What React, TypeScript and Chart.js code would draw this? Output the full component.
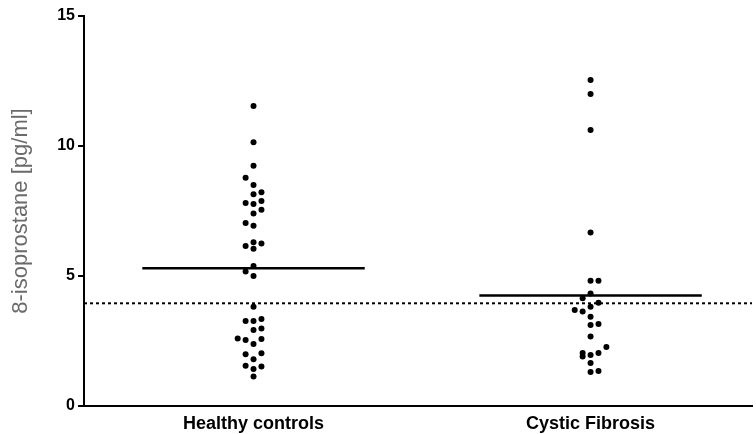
import React, { useEffect, useRef } from "react";
import { Chart, registerables } from "chart.js";

Chart.register(...registerables);

const categories = ["Healthy controls", "Cystic Fibrosis"];

const healthyValues = [
  11.54, 10.14, 9.24, 8.78, 8.5, 8.14, 8.22, 7.81, 7.77, 7.88, 7.4, 7.55, 7.04, 6.93,
  6.3, 6.15, 6.25, 6.05, 5.38, 5.17, 5.0, 3.82, 3.27, 3.27, 3.35, 2.92, 2.98,
  2.6, 2.54, 2.38, 2.58, 1.99, 2.03, 1.8, 1.55, 1.52, 1.42, 1.13,
];
const healthyColumns = [
  0, 0, 0, -1, 0, 0, 1, -1, 0, 1, 0, 1, -1, 0,
  0, -1, 1, 0, 0, -1, 0, 0, -1, 0, 1, 0, 1,
  -2, -1, 0, 1, -1, 1, 0, -1, 1, 0, 0,
];

const cfValues = [
  12.54, 12.0, 10.62, 6.67, 4.82, 4.82, 4.33, 4.14, 3.97, 3.82, 3.69, 3.63, 3.43,
  3.12, 3.15, 2.67, 2.27, 2.04, 1.9, 1.96, 2.04, 1.65, 1.31, 1.35,
];
const cfColumns = [
  0, 0, 0, 0, 0, 1, 0, -1, 1, 0, -2, -1, 0,
  0, 1, 0, 2, -1, -1, 0, 1, 0, 0, 1,
];

const means = [5.3, 4.25];
const threshold = 3.95;

const yTicks = [0, 5, 10, 15];

const X_MIN = 0.497;
const X_MAX = 2.479;
const COLUMN_STEP = 0.0235;
const MEAN_HALF = 0.33;

export default function App() {
  const ref = useRef<HTMLCanvasElement | null>(null);

  useEffect(() => {
    document.body.style.margin = "0";
    if (!ref.current) return;
    const toPoints = (vals: number[], cols: number[], group: number) =>
      vals.map((v, i) => ({ x: group + cols[i] * COLUMN_STEP, y: v }));

    const chart = new Chart(ref.current, {
      type: "scatter",
      data: {
        datasets: [
          {
            label: categories[0],
            data: toPoints(healthyValues, healthyColumns, 1),
            backgroundColor: "#000",
            pointRadius: 3,
            borderWidth: 0,
          },
          {
            label: categories[1],
            data: toPoints(cfValues, cfColumns, 2),
            backgroundColor: "#000",
            pointRadius: 3,
            borderWidth: 0,
          },
          ...means.map((m, i) => ({
            type: "line" as const,
            label: "mean " + categories[i],
            data: [
              { x: i + 1 - MEAN_HALF, y: m },
              { x: i + 1 + MEAN_HALF, y: m },
            ],
            borderColor: "#000",
            borderWidth: 2.5,
            pointRadius: 0,
            showLine: true,
          })),
          {
            type: "line" as const,
            label: "threshold",
            data: [
              { x: X_MIN, y: threshold },
              { x: X_MAX, y: threshold },
            ],
            borderColor: "#000",
            borderWidth: 2,
            borderDash: [3, 3],
            pointRadius: 0,
            showLine: true,
          },
        ],
      },
      options: {
        animation: false,
        responsive: false,
        layout: { padding: { top: 16, right: 0, left: 0, bottom: 0 } },
        plugins: { legend: { display: false }, tooltip: { enabled: false } },
        scales: {
          x: {
            type: "linear",
            min: X_MIN,
            max: X_MAX,
            afterBuildTicks: (axis: any) => {
              axis.ticks = categories.map((_, i) => ({ value: i + 1 }));
            },
            afterFit: (axis: any) => {
              axis.height = 28;
            },
            ticks: {
              callback: (v: any) => categories[Math.round(Number(v)) - 1] ?? "",
              color: "#000",
              font: { family: "'Liberation Sans', Arial, sans-serif", size: 18, weight: "bold" },
              padding: 7,
              maxRotation: 0,
              autoSkip: false,
            },
            grid: { display: false, drawTicks: false },
            border: { display: true, color: "#000", width: 2 },
          },
          y: {
            type: "linear",
            min: 0,
            max: 15,
            afterBuildTicks: (axis: any) => {
              axis.ticks = yTicks.map((v) => ({ value: v }));
            },
            afterFit: (axis: any) => {
              axis.width = 84;
            },
            ticks: {
              color: "#000",
              font: { family: "'Liberation Sans', Arial, sans-serif", size: 16, weight: "bold" },
              padding: 3,
            },
            grid: {
              drawOnChartArea: false,
              drawTicks: true,
              tickLength: 6,
              color: "#000",
              lineWidth: 2,
            },
            border: { display: true, color: "#000", width: 2 },
            title: {
              display: true,
              text: "8-isoprostane [pg/ml]",
              color: "#6a6a6a",
              font: { family: "'Liberation Sans', Arial, sans-serif", size: 22, weight: "normal" },
              padding: { top: 8, bottom: 0 },
            },
          },
        },
      },
    });
    return () => chart.destroy();
  }, []);

  return (
    <div style={{ width: 756, height: 434 }}>
      <canvas ref={ref} width={756} height={434} style={{ display: "block" }} />
    </div>
  );
}
